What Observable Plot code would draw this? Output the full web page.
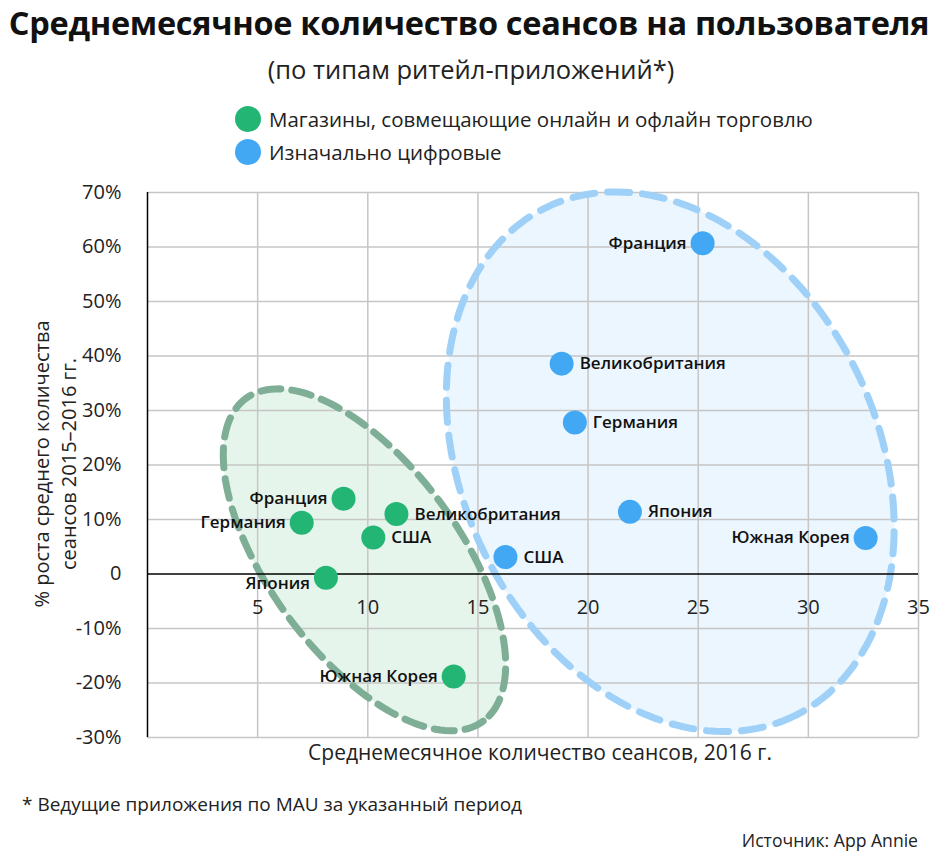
<!DOCTYPE html>
<html>
<head>
<meta charset="utf-8">
<script src="https://cdn.jsdelivr.net/npm/d3@7"></script>
<script src="https://cdn.jsdelivr.net/npm/@observablehq/plot@0.6"></script>
<style>
  body { margin: 0; background: #fff; font-family: "Open Sans", "Noto Sans", sans-serif; color: #111; }
  #wrap { position: relative; width: 940px; height: 862px; overflow: hidden; }
  .abs { position: absolute; white-space: nowrap; }
  #title { left: 0; width: 938px; top: 0px; text-align: center; font-size: 32.5px; font-weight: 700; letter-spacing: -0.3px; }
  #subtitle { left: 0; width: 942px; top: 52px; text-align: center; font-size: 25.5px; color: #222; }
  .leg { left: 235px; font-size: 20.5px; color: #222; display: flex; align-items: center; }
  .leg span.dot { display: inline-block; width: 26px; height: 26px; border-radius: 50%; margin-right: 8px; }
  #ylab { left: 55px; top: 464px; transform: translate(-50%, -50%) rotate(-90deg); text-align: center; font-size: 20px; line-height: 27px; color: #222; }
  #xlab { left: 540px; top: 738px; transform: translateX(-50%); font-size: 21px; color: #222; }
  #foot { left: 22px; top: 791px; font-size: 19px; color: #222; }
  #src { right: 22px; top: 828px; font-size: 17.6px; color: #222; }
  #chart { left: 0; top: 172px; }
</style>
</head>
<body>
<div id="wrap">
  <div id="title" class="abs">Среднемесячное количество сеансов на пользователя</div>
  <div id="subtitle" class="abs">(по типам ритейл-приложений*)</div>
  <div id="leg1" class="abs leg" style="top:105px"></div>
  <div id="leg2" class="abs leg" style="top:138px"></div>
  <div id="ylab" class="abs">% роста среднего количества<br>сеансов 2015–2016 гг.</div>
  <div id="xlab" class="abs">Среднемесячное количество сеансов, 2016 г.</div>
  <div id="foot" class="abs">* Ведущие приложения по MAU за указанный период</div>
  <div id="src" class="abs">Источник: App Annie</div>
  <div id="chart" class="abs"></div>
</div>
<script>
// ---- data ----
const seriesNames = ["Магазины, совмещающие онлайн и офлайн торговлю", "Изначально цифровые"];
const countries = ["Франция", "Германия", "Великобритания", "США", "Япония", "Южная Корея"];
// Omnichannel stores (green)
const omniSessions = [8.9, 7.0, 11.3, 10.25, 8.1, 13.9];
const omniGrowth   = [13.8, 9.4, 11.0, 6.7, -0.7, -18.8];
// Digital-native (blue)
const digitalSessions = [25.2, 19.4, 18.8, 16.25, 21.9, 32.6];
const digitalGrowth   = [60.7, 27.8, 38.6, 3.1, 11.4, 6.6];
const xTicks = [5, 10, 15, 20, 25, 30, 35];
const yTicks = [-30, -20, -10, 0, 10, 20, 30, 40, 50, 60, 70];

// ---- styling / placement ----
const colors = ["#22b573", "#42a8f4"];
// which side of the dot each label sits (per series, per country)
const omniSide    = {"Франция": "left", "Германия": "left", "Великобритания": "right", "США": "right", "Япония": "leftdown", "Южная Корея": "left"};
const digitalSide = {"Франция": "left", "Германия": "right", "Великобритания": "right", "США": "right", "Япония": "right", "Южная Корея": "left"};

// cluster outlines: center and two conjugate semi-axes in data units
const clusters = [
  {c: [23.73, 20.6], u: [5.71, -46.5], v: [-8.41, -17.0], fill: "#ebf6fe", stroke: "#9fd1f8", dash: "22 13"},
  {c: [9.85, 2.6],  u: [5.39, -29.6], v: [-3.47, -10.4], fill: "#e6f5ec", stroke: "#7fae96", dash: "20 11"}
];
function outline(cl) {
  const pts = [];
  for (let i = 0; i < 160; i++) {
    const t = (i / 160) * 2 * Math.PI;
    pts.push({x: cl.c[0] + cl.u[0] * Math.cos(t) + cl.v[0] * Math.sin(t),
              y: cl.c[1] + cl.u[1] * Math.cos(t) + cl.v[1] * Math.sin(t)});
  }
  return pts;
}

const points = [];
countries.forEach((c, i) => points.push({name: c, x: omniSessions[i], y: omniGrowth[i], s: 0, side: omniSide[c]}));
countries.forEach((c, i) => points.push({name: c, x: digitalSessions[i], y: digitalGrowth[i], s: 1, side: digitalSide[c]}));

// legend
[["leg1", 0], ["leg2", 1]].forEach(([id, k]) => {
  const el = document.getElementById(id);
  el.innerHTML = `<span class="dot" style="background:${colors[k]}"></span>${seriesNames[k]}`;
});

const font = "'Open Sans', 'Noto Sans', sans-serif";
const fills = clusters.map(cl => Plot.line(outline(cl), {x: "x", y: "y", curve: "linear-closed", fill: cl.fill, stroke: "none"}));
const strokes = clusters.map(cl => Plot.line(outline(cl), {x: "x", y: "y", curve: "linear-closed", stroke: cl.stroke, strokeWidth: 7, strokeDasharray: cl.dash}));

const labelOpts = (side) => ({
  x: "x", y: "y", text: "name",
  fontWeight: 600, fontSize: 17, fill: "#111",
  textAnchor: side === "right" ? "start" : "end",
  dx: side === "right" ? 18 : -16,
  dy: side === "leftdown" ? 6 : 0
});

const chart = Plot.plot({
  width: 940,
  height: 600,
  marginLeft: 147,
  marginRight: 22,
  marginTop: 20,
  marginBottom: 35,
  x: {domain: [0, 35], axis: null},
  y: {domain: [-30, 70], ticks: yTicks, tickSize: 0, tickPadding: 26, label: null,
      tickFormat: d => d === 0 ? "0" : d + "%"},
  style: {fontFamily: font, fontSize: "20px", color: "#222", background: "transparent", overflow: "visible"},
  marks: [
    ...fills,
    Plot.ruleX(xTicks, {stroke: "#c6c6c6", strokeWidth: 1.5}),
    Plot.ruleY(yTicks.filter(d => d !== 0), {x1: 0, x2: 35, stroke: "#c6c6c6", strokeWidth: 1.5}),
    ...strokes,
    Plot.ruleY([0], {x1: 0, x2: 35, stroke: "#000", strokeWidth: 1.5}),
    Plot.ruleX([0], {stroke: "#000", strokeWidth: 1.5}),
    Plot.text(xTicks, {x: d => d, y: 0, dy: 34, text: d => String(d), fontSize: 20, fill: "#222"}),
    Plot.dot(points, {x: "x", y: "y", r: 12, fill: d => colors[d.s], stroke: "none"}),
    ...["left", "right", "leftdown"].map(side =>
      Plot.text(points.filter(p => p.side === side), labelOpts(side)))
  ]
});
document.getElementById("chart").appendChild(chart);
</script>
</body>
</html>
